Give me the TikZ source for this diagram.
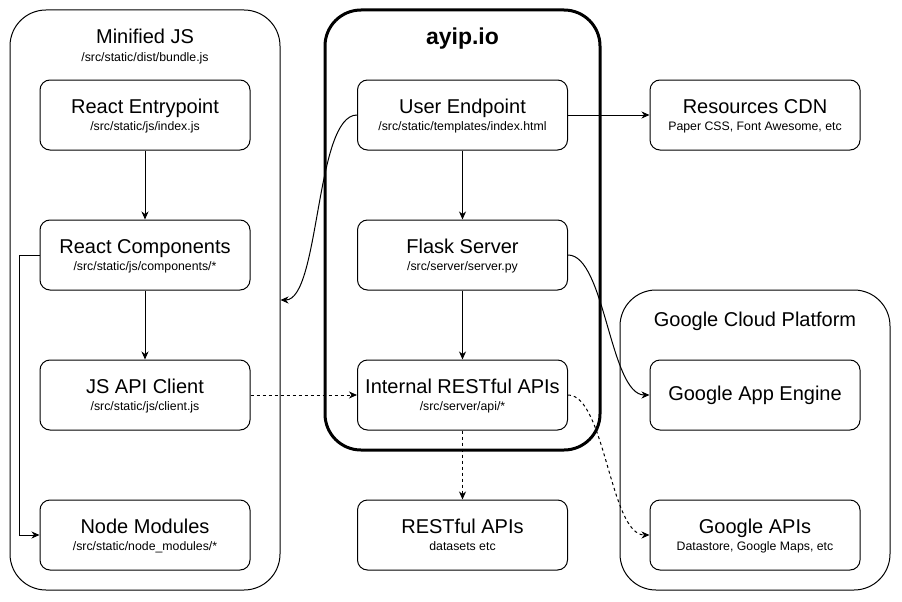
\documentclass[tikz,border=0pt]{standalone}
\usepackage{fontspec}
\setmainfont{Liberation Sans}
\usetikzlibrary{arrows.meta}
\begin{document}
\begin{tikzpicture}[x=1pt,y=-1pt,
  box/.style={draw, line width=1pt, rounded corners=10pt, minimum width=210pt, minimum height=70pt, inner sep=0pt},
  cont/.style={draw, line width=1pt, rounded corners=36pt, inner sep=0pt},
  ttl/.style={anchor=base, font=\fontsize{20}{24}\selectfont, inner sep=0pt},
  sub/.style={anchor=base, font=\fontsize{12.3}{14}\selectfont, inner sep=0pt},
  arr/.style={line width=1pt, -{Stealth[length=8pt,width=7pt,inset=2.5pt]}},
  darr/.style={arr, dash pattern=on 3pt off 3pt}
]
\useasboundingbox[fill=white] (0,0) rectangle (902,602);

% containers
\node[cont, minimum width=270pt, minimum height=580pt] (mjs) at (145,300) {};
\node[cont, line width=3pt, minimum width=275pt, minimum height=440pt] (ayip) at (462.5,230) {};
\node[cont, minimum width=270pt, minimum height=300pt] (gcp) at (755,440) {};

\node[ttl] at ([yshift=-34pt]mjs.north) {Minified JS};
\node[sub] at ([yshift=-52pt]mjs.north) {/src/static/dist/bundle.js};
\node[ttl, font=\fontsize{23}{26}\selectfont\bfseries] at ([yshift=-36pt]ayip.north) {ayip.io};
\node[ttl] at ([yshift=-37pt]gcp.north) {Google Cloud Platform};

% left column
\node[box] (re) at (145,115) {};
\node[ttl] at ([yshift=2pt]re.center) {React Entrypoint};
\node[sub] at ([yshift=-15pt]re.center) {/src/static/js/index.js};

\node[box] (rc) at (145,255) {};
\node[ttl] at ([yshift=2pt]rc.center) {React Components};
\node[sub] at ([yshift=-15pt]rc.center) {/src/static/js/components/*};

\node[box] (jc) at (145,395) {};
\node[ttl] at ([yshift=2pt]jc.center) {JS API Client};
\node[sub] at ([yshift=-15pt]jc.center) {/src/static/js/client.js};

\node[box] (nm) at (145,535) {};
\node[ttl] at ([yshift=2pt]nm.center) {Node Modules};
\node[sub] at ([yshift=-15pt]nm.center) {/src/static/node\_modules/*};

% middle column
\node[box] (ue) at (462.5,115) {};
\node[ttl] at ([yshift=2pt]ue.center) {User Endpoint};
\node[sub] at ([yshift=-15pt]ue.center) {/src/static/templates/index.html};

\node[box] (fs) at (462.5,255) {};
\node[ttl] at ([yshift=2pt]fs.center) {Flask Server};
\node[sub] at ([yshift=-15pt]fs.center) {/src/server/server.py};

\node[box] (ia) at (462.5,395) {};
\node[ttl] at ([yshift=2pt]ia.center) {Internal RESTful APIs};
\node[sub] at ([yshift=-15pt]ia.center) {/src/server/api/*};

\node[box] (ra) at (462.5,535) {};
\node[ttl] at ([yshift=2pt]ra.center) {RESTful APIs};
\node[sub] at ([yshift=-15pt]ra.center) {datasets etc};

% right column
\node[box] (cdn) at (755,115) {};
\node[ttl] at ([yshift=2pt]cdn.center) {Resources CDN};
\node[sub] at ([yshift=-15pt]cdn.center) {Paper CSS, Font Awesome, etc};

\node[box] (gae) at (755,395) {};
\node[ttl] at ([yshift=-5pt]gae.center) {Google App Engine};

\node[box] (ga) at (755,535) {};
\node[ttl] at ([yshift=2pt]ga.center) {Google APIs};
\node[sub] at ([yshift=-15pt]ga.center) {Datastore, Google Maps, etc};

% connectors
\draw[arr] (re) -- (rc);
\draw[arr] (rc) -- (jc);
\draw[arr] (rc.west) -- ++(-20,0) |- (nm.west);
\draw[arr] (ue) -- (fs);
\draw[arr] (fs) -- (ia);
\draw[darr] (ia) -- (ra);
\draw[darr] (jc) -- (ia);
\draw[arr] (ue) -- (cdn);
\draw[arr] (ue.west) .. controls (315,115) and (320,300) .. (mjs.east);
\draw[arr] (fs.east) .. controls (605,255) and (610,395) .. (gae.west);
\draw[darr] (ia.east) .. controls (605,395) and (610,535) .. (ga.west);
\end{tikzpicture}
\end{document}
